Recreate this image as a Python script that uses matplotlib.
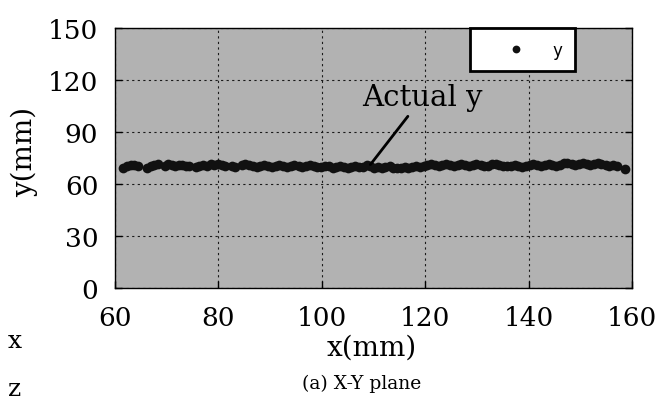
import matplotlib
matplotlib.use("Agg")
import matplotlib.pyplot as plt

# measured path, x-y plane (mm)
x_pts = [
    61.6, 62.3, 63.0, 63.7, 64.5,
    66.2, 66.9, 67.6, 68.3,
    69.6, 70.3, 71.0, 71.6, 72.3, 73.0, 73.7, 74.4,
    75.6, 76.3, 77.0, 77.8, 78.5, 79.2, 79.9, 80.6, 81.3,
    82.6, 83.3, 84.5, 85.2, 85.9, 86.7, 87.4, 88.1, 88.9, 89.6, 90.3, 91.1,
    91.8, 92.5, 93.3, 94.0, 94.7, 95.5, 96.2, 96.9, 97.7, 98.4, 99.1, 99.9,
    100.6, 101.3, 102.1, 102.8, 103.5, 104.3, 105.0, 105.7, 106.5, 107.2,
    107.9, 108.7, 109.4, 110.1, 110.9, 111.6, 112.3, 113.1, 113.8, 114.5,
    115.3, 116.0, 116.7, 117.5, 118.2, 118.9, 119.7, 120.4,
    121.1, 121.9, 122.6, 123.3, 124.1, 124.8, 125.5, 126.3, 127.0, 127.7,
    128.5, 129.2, 129.9, 130.7, 131.4, 132.1, 132.9, 133.6, 134.3, 135.1,
    135.8, 136.5, 137.3, 138.0, 138.7, 139.5, 140.2, 140.9,
    141.7, 142.4, 143.1, 143.9, 144.6, 145.3, 146.1, 146.8, 147.5, 148.3,
    149.0, 149.7, 150.5, 151.2, 151.9, 152.7, 153.4, 154.1, 154.9, 155.6,
    156.3, 157.1, 158.6,
]
y_pts = [
    69.5, 70.3, 70.8, 71.2, 70.6,
    69.4, 70.2, 70.9, 71.3,
    70.2, 71.3, 71.0, 70.4, 71.2, 70.8, 70.1, 70.6,
    69.8, 70.4, 70.9, 70.2, 71.3, 70.7, 71.6, 71.0, 70.3,
    70.1, 69.6, 70.8, 71.4, 70.9, 70.2, 69.8, 70.5, 71.1, 70.6, 69.9, 70.3,
    71.0, 70.4, 69.7, 70.2, 70.9, 70.5, 69.8, 70.1, 70.7, 70.2, 69.6, 70.0,
    70.6, 70.1, 69.5, 69.9, 70.4, 69.8, 69.3, 69.7, 70.2, 69.6,
    69.9, 70.8, 70.3, 69.4, 69.8, 69.2, 69.6, 70.1, 69.5, 69.0,
    69.4, 69.9, 69.3, 69.7, 70.3, 69.8, 70.5, 71.0,
    71.5, 70.9, 70.4, 71.2, 71.8, 71.1, 70.5, 70.9, 71.6, 71.0,
    70.3, 70.8, 71.4, 70.7, 70.2, 70.6, 71.3, 71.7, 71.0, 70.4,
    70.1, 70.5, 71.0, 70.6, 70.0, 70.4, 70.9, 71.3,
    70.8, 70.3, 70.9, 71.5, 71.0, 70.6, 71.2, 71.9, 72.3, 71.6,
    71.1, 71.8, 72.4, 71.7, 71.0, 71.4, 72.0, 71.3, 70.7, 70.2,
    70.9, 70.1, 68.6,
]
assert len(x_pts) == len(y_pts)

x_ticks = [60, 80, 100, 120, 140, 160]
y_ticks = [0, 30, 60, 90, 120, 150]

serif = "DejaVu Serif"

fig = plt.figure(figsize=(6.6, 4.02), dpi=100)
ax = fig.add_axes([115 / 660, 1 - 289 / 402, 517 / 660, 260 / 402])
ax.set_facecolor("#b2b2b2")

ax.plot(x_pts, y_pts, "o", color="#111111", markersize=7,
        markeredgewidth=0, label="y", zorder=3)

ax.set_xlim(60, 160)
ax.set_ylim(0, 150)
ax.set_xticks(x_ticks)
ax.set_yticks(y_ticks)
ax.grid(True, color="#1a1a1a", linestyle=(0, (2, 3)), linewidth=0.8)
ax.set_axisbelow(True)
ax.tick_params(direction="in", length=5, width=1, right=True,
               labelsize=19, pad=12)
for lbl in ax.get_xticklabels() + ax.get_yticklabels():
    lbl.set_family(serif)
for side in ax.spines.values():
    side.set_linewidth(1.0)
    side.set_color("black")

leg = ax.legend(loc="upper right", bbox_to_anchor=(0.89, 1.0),
                borderaxespad=0, fontsize=12, handlelength=4,
                handletextpad=0.2, borderpad=0.75, fancybox=False,
                framealpha=1, edgecolor="black", markerscale=0.8)
leg.get_frame().set_linewidth(2)

ax.annotate("Actual y", xy=(109.4, 71.2), xytext=(119.5, 110),
            ha="center", va="center", fontsize=21, family=serif,
            arrowprops=dict(arrowstyle="-", color="black", lw=2,
                            shrinkA=2, shrinkB=0))

fig.text(24 / 660, 1 - 152 / 402, "y(mm)", rotation=90, ha="center",
         va="center", fontsize=20, family=serif)
fig.text(372 / 660, 1 - 348 / 402, "x(mm)", ha="center", va="center",
         fontsize=20, family=serif)
fig.text(362 / 660, 1 - 384 / 402, "(a) X-Y plane", ha="center",
         va="center", fontsize=13.5, family=serif)
fig.text(15 / 660, 1 - 342 / 402, "x", ha="center", va="center",
         fontsize=18, family=serif)
fig.text(15 / 660, 1 - 401 / 402, "z", ha="center", va="bottom",
         fontsize=18, family=serif)

fig.savefig("out.png", dpi=100)
